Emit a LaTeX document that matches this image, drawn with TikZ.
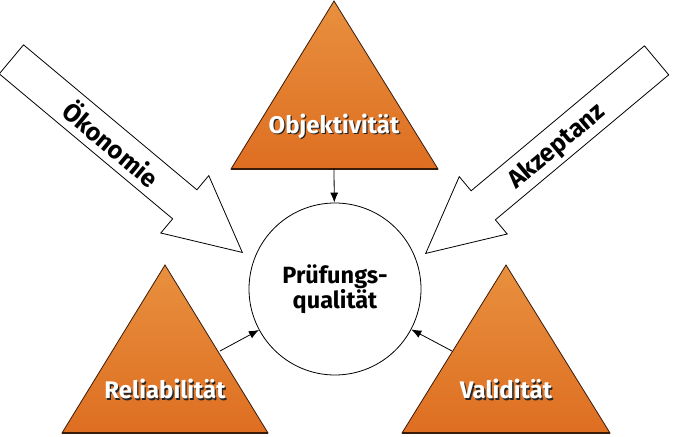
\documentclass[tikz,border=0pt]{standalone}
\usepackage{fontspec}
\setmainfont{Fira Sans}
\usetikzlibrary{shapes.arrows,arrows.meta}
\definecolor{orangetop}{HTML}{E8903E}
\definecolor{orangebot}{HTML}{DE6E22}
\definecolor{tribrown}{HTML}{3A1A08}
\newcommand{\shadowtxt}[1]{\rlap{\hspace{1.3pt}\raisebox{-1.3pt}{\color{black!85}#1}}#1}

\begin{document}
\begin{tikzpicture}
[x=1pt,y=1pt,line width=0.8pt,>={Latex[length=10pt,width=8pt]},%
  tri/.style={draw=tribrown,line width=0.8pt,shading angle=20,top color=orangetop,bottom color=orangebot},%
  tribase/.style={draw=tribrown,line width=2pt},%
  tritext/.style={text=white,font=\bfseries\fontsize{24}{26}\selectfont},%
  blocktext/.style={font=\bfseries\fontsize{23.5}{25.5}\selectfont},%
  bigarrow/.style={single arrow,draw,fill=white,inner xsep=0pt,inner ysep=18.5pt,%
    minimum height=301pt,single arrow head extend=18.5pt,single arrow tip angle=53}]
\useasboundingbox (0,0) rectangle (682,436);
% triangles
\draw[tri] (334,435) -- (438,267) coordinate (objr) -- (231,267) coordinate (objl) -- cycle;
\draw[tribase] (objl) -- (objr);
\coordinate (objbase) at (334,267);
\draw[tri] (165,171) -- (268,3) coordinate (relr) -- (62,3) coordinate (rell) -- cycle;
\draw[tribase] (rell) -- (relr);
\coordinate (relside) at (220,85);
\draw[tri] (506,171) -- (610,3) coordinate (valr) -- (402,3) coordinate (vall) -- cycle;
\draw[tribase] (vall) -- (valr);
\coordinate (valside) at (452,85);
\node[tritext] (objtxt) at (334,309) {\shadowtxt{Objektivität}};
\node[tritext] (reltxt) at (165,46) {\shadowtxt{Reliabilität}};
\node[tritext] (valtxt) at (506,46) {\shadowtxt{Validität}};
% centre
\node[circle,draw,minimum size=172pt,inner sep=0pt,align=center,blocktext] (pq) at (335,147) {Prüfungs-\\qualität};
\draw[->] (objbase) -- (pq);
\draw[->] (relside) -- (pq);
\draw[->] (valside) -- (pq);
% block arrows
\node[bigarrow,rotate=-39.9,anchor=tip] (oek) at (243,183) {};
\node[bigarrow,rotate=219.9,anchor=tip] (akz) at (425,182) {};
\node[blocktext,font=\bfseries\fontsize{25}{27}\selectfont,rotate=-40] (oektxt) at (112,293) {Ökonomie};
\node[blocktext,font=\bfseries\fontsize{25}{27}\selectfont,rotate=40] (akztxt) at (557,289) {Akzeptanz};
\end{tikzpicture}
\end{document}
